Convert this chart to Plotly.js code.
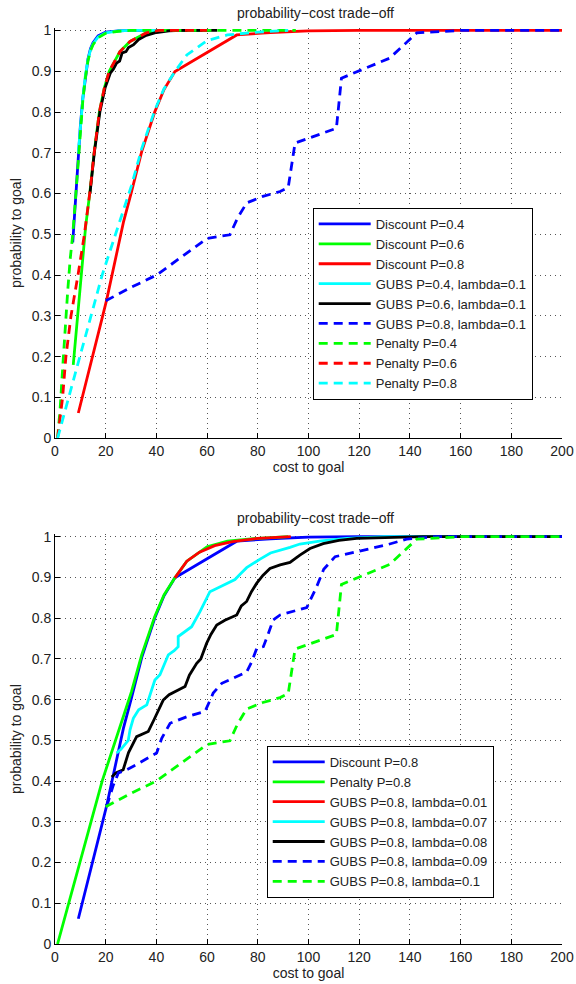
<!DOCTYPE html>
<html><head><meta charset="utf-8">
<script src="https://cdn.plot.ly/plotly-3.0.1.min.js"></script>
<style>html,body{margin:0;padding:0;background:#fff}#chart{width:576px;height:984px}</style>
</head><body><div id="chart"></div><script>
// ---------- top panel data ----------
const discount04_x = [7, 8, 9, 10, 11, 12, 13, 14, 15, 17, 20, 25, 30, 60];
const discount04_y = [0.48, 0.585, 0.675, 0.765, 0.835, 0.89, 0.93, 0.955, 0.97, 0.987, 0.996, 0.999, 1, 1];
const discount06_x = [7.2, 8.5, 10, 12.1, 13.8, 15.5, 17.5, 19.5, 21.4, 25.6, 29.6, 36, 41, 60];
const discount06_y = [0.18, 0.27, 0.37, 0.52, 0.605, 0.703, 0.8, 0.86, 0.9, 0.948, 0.973, 0.994, 1, 1];
const discount08_x = [9.2, 12, 15, 18, 20.4, 22.5, 25, 27, 30.2, 34.2, 39.4, 43, 47.3, 71.7, 85, 100, 120, 200];
const discount08_y = [0.062, 0.13, 0.2, 0.28, 0.34, 0.4, 0.47, 0.53, 0.605, 0.703, 0.801, 0.855, 0.899, 0.989, 0.995, 0.999, 1, 1];
const gubs04_x = [9.2, 10, 11, 12, 13, 14, 15, 17, 20, 25, 30, 40];
const gubs04_y = [0.70, 0.765, 0.835, 0.89, 0.928, 0.952, 0.967, 0.984, 0.994, 0.999, 1, 1];
const gubs06_x = [13.8, 15.5, 17.7, 19.8, 21.8, 23, 24.3, 25.5, 26.5, 28, 29, 31, 33, 36, 40, 45, 50, 64];
const gubs06_y = [0.6, 0.7, 0.8, 0.86, 0.895, 0.905, 0.92, 0.925, 0.945, 0.948, 0.958, 0.965, 0.978, 0.988, 0.995, 0.999, 1, 1];
const gubs08_x = [20, 30, 40, 50, 60, 69, 72, 75.6, 82, 88.8, 92, 94.7, 111, 113, 119, 132, 142.7, 150, 160, 200];
const gubs08_y = [0.337, 0.37, 0.40, 0.445, 0.49, 0.499, 0.54, 0.577, 0.593, 0.605, 0.615, 0.724, 0.76, 0.883, 0.899, 0.932, 0.994, 0.997, 1, 1];
const penalty04_x = [1, 2, 3, 4, 5, 6, 7, 8, 9, 10, 11, 12, 13, 14, 15, 17, 20, 25, 30, 50, 95];
const penalty04_y = [0, 0.07, 0.17, 0.28, 0.36, 0.44, 0.5, 0.58, 0.67, 0.76, 0.83, 0.885, 0.925, 0.95, 0.965, 0.982, 0.993, 0.998, 1, 1, 1];
const penalty06_x = [1, 2, 3, 4.3, 6.3, 9.2, 11.6, 13.8, 15.5, 17.5, 19.5, 21.4, 25.6, 29.6, 36, 41, 60];
const penalty06_y = [0, 0.05, 0.1, 0.2, 0.3, 0.405, 0.5, 0.605, 0.703, 0.8, 0.86, 0.9, 0.948, 0.973, 0.994, 1, 1];
const penalty08_x = [1, 5.5, 10, 14.2, 18.6, 24, 27, 30.2, 34.2, 39.4, 43, 47.3, 52, 57, 60, 68, 80, 92];
const penalty08_y = [0, 0.1, 0.2, 0.3, 0.4, 0.5, 0.56, 0.62, 0.71, 0.805, 0.857, 0.899, 0.94, 0.962, 0.975, 0.989, 0.996, 1];

// ---------- bottom panel data (P=0.8, varying lambda) ----------
const lam001_x = [47.3, 52, 57, 63, 70, 80, 93];
const lam001_y = [0.899, 0.94, 0.962, 0.978, 0.988, 0.996, 1];
const lam007_x = [24.3, 26, 28.9, 29.6, 30.9, 33, 36.2, 38, 39.4, 41.4, 44.7, 47, 48.6, 48.6, 51, 53.9, 57.2, 59, 61.1, 65.8, 71, 73, 75.6, 80.9, 85, 92.7, 96.6, 105, 115, 130, 200];
const lam007_y = [0.469, 0.478, 0.5, 0.526, 0.554, 0.575, 0.587, 0.62, 0.648, 0.661, 0.71, 0.72, 0.73, 0.755, 0.765, 0.779, 0.816, 0.84, 0.865, 0.879, 0.895, 0.908, 0.924, 0.945, 0.96, 0.974, 0.982, 0.99, 0.996, 1, 1];
const lam008_x = [22.4, 24, 26.9, 29, 32.2, 36.8, 39, 42.7, 45, 48.6, 51.3, 53, 55.9, 57.5, 59.8, 61.5, 63.8, 67, 71.7, 73.5, 75.6, 77.5, 79.6, 82, 84.8, 88.8, 92.7, 96.6, 100.6, 105.8, 112, 119, 132, 145, 200];
const lam008_y = [0.41, 0.42, 0.428, 0.47, 0.509, 0.522, 0.55, 0.599, 0.612, 0.624, 0.632, 0.66, 0.689, 0.7, 0.738, 0.76, 0.783, 0.795, 0.808, 0.83, 0.841, 0.865, 0.886, 0.905, 0.922, 0.931, 0.937, 0.955, 0.971, 0.983, 0.991, 0.996, 0.998, 1, 1];
const lam009_x = [20.4, 23, 25, 28.3, 32, 40.1, 42.1, 45.4, 52, 59.2, 62.4, 65.8, 75.6, 77.6, 79.6, 82.2, 84.2, 86.1, 88.8, 96.6, 99.3, 103.2, 106, 110.5, 119, 130.8, 138.7, 144, 150, 200];
const lam009_y = [0.338, 0.39, 0.42, 0.428, 0.44, 0.469, 0.505, 0.542, 0.558, 0.571, 0.616, 0.64, 0.668, 0.693, 0.726, 0.73, 0.763, 0.796, 0.808, 0.822, 0.826, 0.877, 0.92, 0.951, 0.963, 0.98, 0.994, 0.997, 1, 1];

const xTicks = [0, 20, 40, 60, 80, 100, 120, 140, 160, 180, 200];
const yTicks = [0, 0.1, 0.2, 0.3, 0.4, 0.5, 0.6, 0.7, 0.8, 0.9, 1];

const BLUE = '#0000ff', GREEN = '#00ff00', RED = '#ff0000', CYAN = '#00ffff', BLACK = '#000000';
const DASH = '9px,6px';

function tr(x, y, name, color, dashed, xa, ya, leg) {
  return {
    type: 'scatter', mode: 'lines', x: x, y: y, name: name,
    xaxis: xa, yaxis: ya, legend: leg,
    line: {color: color, width: 2.8, dash: dashed ? DASH : 'solid'},
    hoverinfo: 'skip'
  };
}

const data = [
  tr(discount04_x, discount04_y, 'Discount P=0.4', BLUE, false, 'x', 'y', 'legend'),
  tr(discount06_x, discount06_y, 'Discount P=0.6', GREEN, false, 'x', 'y', 'legend'),
  tr(discount08_x, discount08_y, 'Discount P=0.8', RED, false, 'x', 'y', 'legend'),
  tr(gubs04_x, gubs04_y, 'GUBS P=0.4, lambda=0.1', CYAN, false, 'x', 'y', 'legend'),
  tr(gubs06_x, gubs06_y, 'GUBS P=0.6, lambda=0.1', BLACK, false, 'x', 'y', 'legend'),
  tr(gubs08_x, gubs08_y, 'GUBS P=0.8, lambda=0.1', BLUE, true, 'x', 'y', 'legend'),
  tr(penalty04_x, penalty04_y, 'Penalty P=0.4', GREEN, true, 'x', 'y', 'legend'),
  tr(penalty06_x, penalty06_y, 'Penalty P=0.6', RED, true, 'x', 'y', 'legend'),
  tr(penalty08_x, penalty08_y, 'Penalty P=0.8', CYAN, true, 'x', 'y', 'legend'),

  tr(discount08_x, discount08_y, 'Discount P=0.8', BLUE, false, 'x2', 'y2', 'legend2'),
  tr(penalty08_x, penalty08_y, 'Penalty P=0.8', GREEN, false, 'x2', 'y2', 'legend2'),
  tr(lam001_x, lam001_y, 'GUBS P=0.8, lambda=0.01', RED, false, 'x2', 'y2', 'legend2'),
  tr(lam007_x, lam007_y, 'GUBS P=0.8, lambda=0.07', CYAN, false, 'x2', 'y2', 'legend2'),
  tr(lam008_x, lam008_y, 'GUBS P=0.8, lambda=0.08', BLACK, false, 'x2', 'y2', 'legend2'),
  tr(lam009_x, lam009_y, 'GUBS P=0.8, lambda=0.09', BLUE, true, 'x2', 'y2', 'legend2'),
  tr(gubs08_x, gubs08_y, 'GUBS P=0.8, lambda=0.1', GREEN, true, 'x2', 'y2', 'legend2')
];

const FONT = 'Liberation Sans, Arial, Helvetica, sans-serif';
const axBase = {
  showline: true, linecolor: '#000', linewidth: 1, mirror: false,
  ticks: 'inside', ticklen: 5, tickcolor: '#000', tickwidth: 1,
  showgrid: true, gridcolor: '#555', gridwidth: 1, griddash: '1px,4px',
  zeroline: false, tickfont: {size: 14, color: '#222', family: FONT}
};
function xax(anchor) {
  return Object.assign({}, axBase, {
    anchor: anchor, domain: [0, 1], range: [0, 200], tickmode: 'array',
    tickvals: xTicks, ticktext: xTicks.map(String),
    title: {text: 'cost to goal', font: {size: 14, color: '#222', family: FONT}, standoff: 3}
  });
}
function yax(anchor, dom) {
  return Object.assign({}, axBase, {
    anchor: anchor, domain: dom, range: [0, 1.006], tickmode: 'array',
    tickvals: yTicks, ticktext: yTicks.map(String),
    title: {text: 'probability to goal', font: {size: 14, color: '#222', family: FONT}, standoff: 6}
  });
}
const legBase = {
  xanchor: 'left', yanchor: 'top', bgcolor: '#fff', bordercolor: '#000', borderwidth: 1,
  font: {size: 13, color: '#222', family: FONT}, traceorder: 'normal', itemwidth: 52
};

const layout = {
  width: 576, height: 984,
  margin: {l: 55, r: 14, t: 28, b: 40},
  paper_bgcolor: '#fff', plot_bgcolor: '#fff',
  font: {family: FONT, size: 14, color: '#222'},
  showlegend: true,
  xaxis: xax('y'),
  yaxis: yax('x', [0.5521, 1]),
  xaxis2: xax('y2'),
  yaxis2: yax('x2', [0, 0.4473]),
  legend: Object.assign({}, legBase, {x: 0.5083, y: 0.8035}),
  legend2: Object.assign({}, legBase, {x: 0.4176, y: 0.2162}),
  annotations: [
    {text: 'probability\u2212cost trade\u2212off', xref: 'paper', yref: 'paper', x: 0.513, y: 1.0164,
     xanchor: 'center', yanchor: 'middle', showarrow: false, font: {size: 14, color: '#222', family: FONT}},
    {text: 'probability\u2212cost trade\u2212off', xref: 'paper', yref: 'paper', x: 0.513, y: 0.4651,
     xanchor: 'center', yanchor: 'middle', showarrow: false, font: {size: 14, color: '#222', family: FONT}}
  ]
};

Plotly.newPlot('chart', data, layout, {displayModeBar: false, staticPlot: true});
</script></body></html>
